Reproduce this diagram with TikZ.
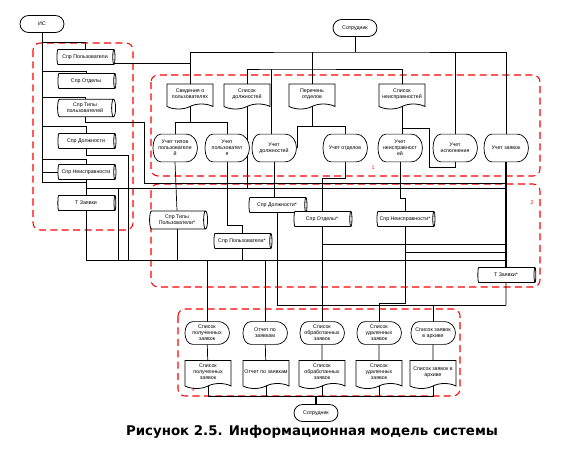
\documentclass[tikz,border=0pt]{standalone}
\usepackage{fontspec}
\setmainfont{Liberation Sans}
\newfontfamily\capfont{DejaVu Sans}
\usetikzlibrary{shapes.geometric,shapes.symbols}
\pgfdeclarelayer{wires}
\pgfdeclarelayer{under}
\pgfsetlayers{wires,under,main}
\newcommand{\nf}{\fontsize{3}{3.5}\selectfont}

\tikzset{
  term/.style={draw,fill=white,rounded corners=0.17cm,minimum width=0.88cm,minimum height=0.34cm,inner sep=0pt,font=\nf},
  spr/.style={draw,fill=white,cylinder,aspect=0.35,minimum height=1.16cm,minimum width=0.3cm,inner sep=0.4pt,align=center,font=\nf},
  doc/.style={draw,fill=white,tape,tape bend top=none,tape bend height=0.1cm,minimum width=0.92cm,minimum height=0.5cm,inner sep=0.5pt,align=center,font=\nf},
  disp/.style={minimum width=0.9cm,minimum height=0.54cm,inner sep=0pt,align=center,font=\nf},
  grp/.style={draw=red,line width=0.6pt,dash pattern=on 4pt off 2.5pt,rounded corners=4pt},
  num/.style={text=red,font=\nf}
}

\begin{document}
\begin{tikzpicture}[x=0.02cm,y=-0.02cm,line width=0.45pt]
\useasboundingbox (0,0) rectangle (566,460);

% left group
\node[term] (is) at (42,24) {ИС};
\node[spr] (spU) at (85,57) {Спр Пользователи};
\node[spr] (spO) at (86,81) {Спр Отделы};
\node[spr,minimum width=0.35cm] (spT) at (85,108) {Спр Типы\\пользователей};
\node[spr] (spD) at (86,141) {Спр Должности};
\node[spr] (spN) at (86,172) {Спр Неисправности};
\node[spr] (tZ) at (86,203) {Т Заявки};

% group 1
\node[term] (sotrA) at (355,28) {Сотрудник};
\node[doc] (dSv) at (190,94) {Сведения о\\пользователях};
\node[doc] (dDl) at (247,94) {Список\\должностей};
\node[doc] (dOt) at (312,94) {Перечень\\отделов};
\node[doc] (dNe) at (402,94) {Список\\неисправностей};
\node[disp] (uTp) at (175,148) {Учет типов\\пользователе\\й};
\node[disp] (uPl) at (227,148) {Учет\\пользовател\\я};
\node[disp] (uDl) at (274,148) {Учет\\должностей};
\node[disp] (uOt) at (345,148) {Учет отделов};
\node[disp] (uNe) at (400,148) {Учет\\неисправност\\ей};
\node[disp] (uIs) at (455,148) {Учет\\исполнения};
\node[disp] (uZa) at (506,148) {Учет заявок};
\node[num] (n1) at (373,168) {1};

% group 2
\node[spr,minimum width=0.36cm] (s2T) at (177,220) {Спр Типы\\Пользователи*};
\node[spr] (s2D) at (277,205) {Спр Должности*};
\node[spr] (s2U) at (242,241) {Спр Пользователи*};
\node[spr] (s2O) at (322,219) {Спр Отделы*};
\node[spr] (s2N) at (405,219) {Спр Неисправности*};
\node[spr] (t2Z) at (506,275) {Т Заявки*};
\node[num] (n2) at (532,203) {2};

% group 4
\node[disp,minimum height=0.44cm] (pPo) at (207,333) {Список\\полученных\\заявок};
\node[disp,minimum height=0.44cm] (pOt) at (265,333) {Отчет по\\заявкам};
\node[disp,minimum height=0.44cm] (pOb) at (322,333) {Список\\обработанных\\заявок};
\node[disp,minimum height=0.44cm] (pUd) at (379,333) {Список\\удаленных\\заявок};
\node[disp,minimum height=0.44cm] (pAr) at (433,333) {Список заявок\\в архиве};
\node[doc,minimum height=0.56cm] (dPo) at (208,372) {Список\\полученных\\заявок};
\node[doc,minimum height=0.56cm] (dOr) at (266,372) {Отчет по заявкам};
\node[doc,minimum height=0.56cm] (dOb) at (322,372) {Список\\обработанных\\заявок};
\node[doc,minimum height=0.56cm] (dUd) at (379,372) {Список\\удаленных\\заявок};
\node[doc,minimum height=0.56cm] (dAr) at (433,372) {Список заявок в\\архиве};
\node[num] (n4) at (193,390) {4};
\node[term] (sotrB) at (316,413) {Сотрудник};

\node[font=\capfont\bfseries\fontsize{7.6}{9}\selectfont] (cap) at (312,432) {Рисунок 2.5. Информационная модель системы};

% display shapes
\begin{pgfonlayer}{under}
\foreach \p in {uTp,uPl,uDl,uOt,uNe,uIs,uZa,pPo,pOt,pOb,pUd,pAr}
  \draw[fill=white] ([xshift=5pt]\p.north west) -- ([xshift=-7pt]\p.north east)
    .. controls ([xshift=2pt]\p.north east) and ([xshift=2pt]\p.south east) .. ([xshift=-7pt]\p.south east)
    -- ([xshift=5pt]\p.south west)
    .. controls ([xshift=-1pt]\p.south west) and ([xshift=-1pt]\p.north west) .. cycle;
\end{pgfonlayer}

\begin{pgfonlayer}{wires}
\draw[grp] (33,43) rectangle (133,230);
\draw[grp] (151,75) rectangle (540,176);
\draw[grp] (151,184) rectangle (540,287);
\draw[grp] (178,309) rectangle (460,396);

\coordinate (lb) at (43,183);
\coordinate (tb) at (355,52);
\coordinate (tb2) at (271,69);
\coordinate (ne) at (402,128);
\coordinate (b1w) at (144,183);
\coordinate (b1e) at (506,183);
\coordinate (b2e) at (506,188);
\coordinate (b3e) at (506,260);
\coordinate (b4e) at (506,305);
\coordinate (c118) at (118,188);
\coordinate (c128) at (128,260);
\coordinate (c244) at (506,244);
\coordinate (c252) at (506,252);
\coordinate (b5) at (316,396);

% ИС
\draw (is.south) -- (is.south |- lb);
\draw (spU.north) -- ++(0,-7) -| (is.south);
\draw (spO.north) -- ++(0,-2) -| (is.south);
\draw (spT.north) -- ++(0,-2) -| (is.south);
\draw (spD.north) -- ++(0,-7) -| (is.south);
\draw (spN.north) -- ++(0,-5) -| (is.south);
\draw (spN.west) -| (is.south);
\draw (tZ.north) -- ++(0,-13) -| (is.south);

% Сотрудник сверху
\draw (sotrA.south) -- (tb);
\draw (dSv.north) |- (tb) -| (uZa.north);
\draw (dOt.north) -- (dOt.north |- tb);
\draw (uIs.north) -- (uIs.north |- tb);
\draw ([yshift=-3.4pt]spU.east) -| (dSv.north);
\draw (dDl.north) |- (tb2) -| (dNe.north);
\draw (tb2) -- (tb2 |- uDl.north);

\draw (dSv.south) -- ++(0,18) coordinate (sv) -| (uTp.north);
\draw (sv) -| (uPl.north);
\draw (dOt.south) -- ++(0,22) coordinate (ot) -| (uOt.north);
\draw (ot) -| (uDl.east);
\draw (dNe.south) -- (dNe.south |- uNe.north);
\draw (ne) -| ++(27,39) -| (uIs.south);

% шины
\draw (b1w) -- (b1e);
\draw (spN.south) |- (b2e);
\draw (spT.south) -- ++(0,5) -| (b1w);
\draw (spD.south) -- ++(0,6) -| (c128);
\draw (c118) -- (c118 |- b3e);
\draw (tZ.south) |- (b3e);
\draw (dDl.south) -- (dDl.south |- b2e);

\draw (uTp.south) -- (s2T.north);
\draw (uPl.south) -- ++(0,63) -| (s2U.north);
\draw (uDl.south) -- (uDl.south |- s2D.north);
\draw (uOt.south) -- ++(0,16) -| (s2O.north);
\draw (uNe.south) -- ++(0,36) -| (s2N.north);
\draw[line width=1pt] (uZa.south) -- (t2Z.north);
\draw (t2Z.south) -- (b4e);

\draw (s2T.south) -- (s2T.south |- b3e);
\draw (s2U.south) -- (s2U.south |- b3e);
\draw (s2D.south) |- (b4e);
\draw (s2O.south) |- (c244);
\draw (s2O.south) -- (s2O.south |- pOb.north);
\draw (s2N.south) |- (c252);
\draw (s2N.south) -- ++(0,76) -| (pUd.north);
\draw (pPo.north) -- (pPo.north |- b3e);
\draw (pOt.north) -- (pOt.north |- b3e);
\draw (pAr.north) -- (pAr.north |- b4e);

\foreach \a/\b in {pPo/dPo,pOt/dOr,pOb/dOb,pUd/dUd,pAr/dAr}
  \draw (\a) -- (\b);
\draw (dPo.south) |- (b5);
\draw (dAr.south) |- (b5);
\foreach \d in {dOr,dOb,dUd}
  \draw (\d.south) -- (\d.south |- b5);
\draw[line width=1pt] (b5) -- (sotrB.north);
\end{pgfonlayer}
\end{tikzpicture}
\end{document}
